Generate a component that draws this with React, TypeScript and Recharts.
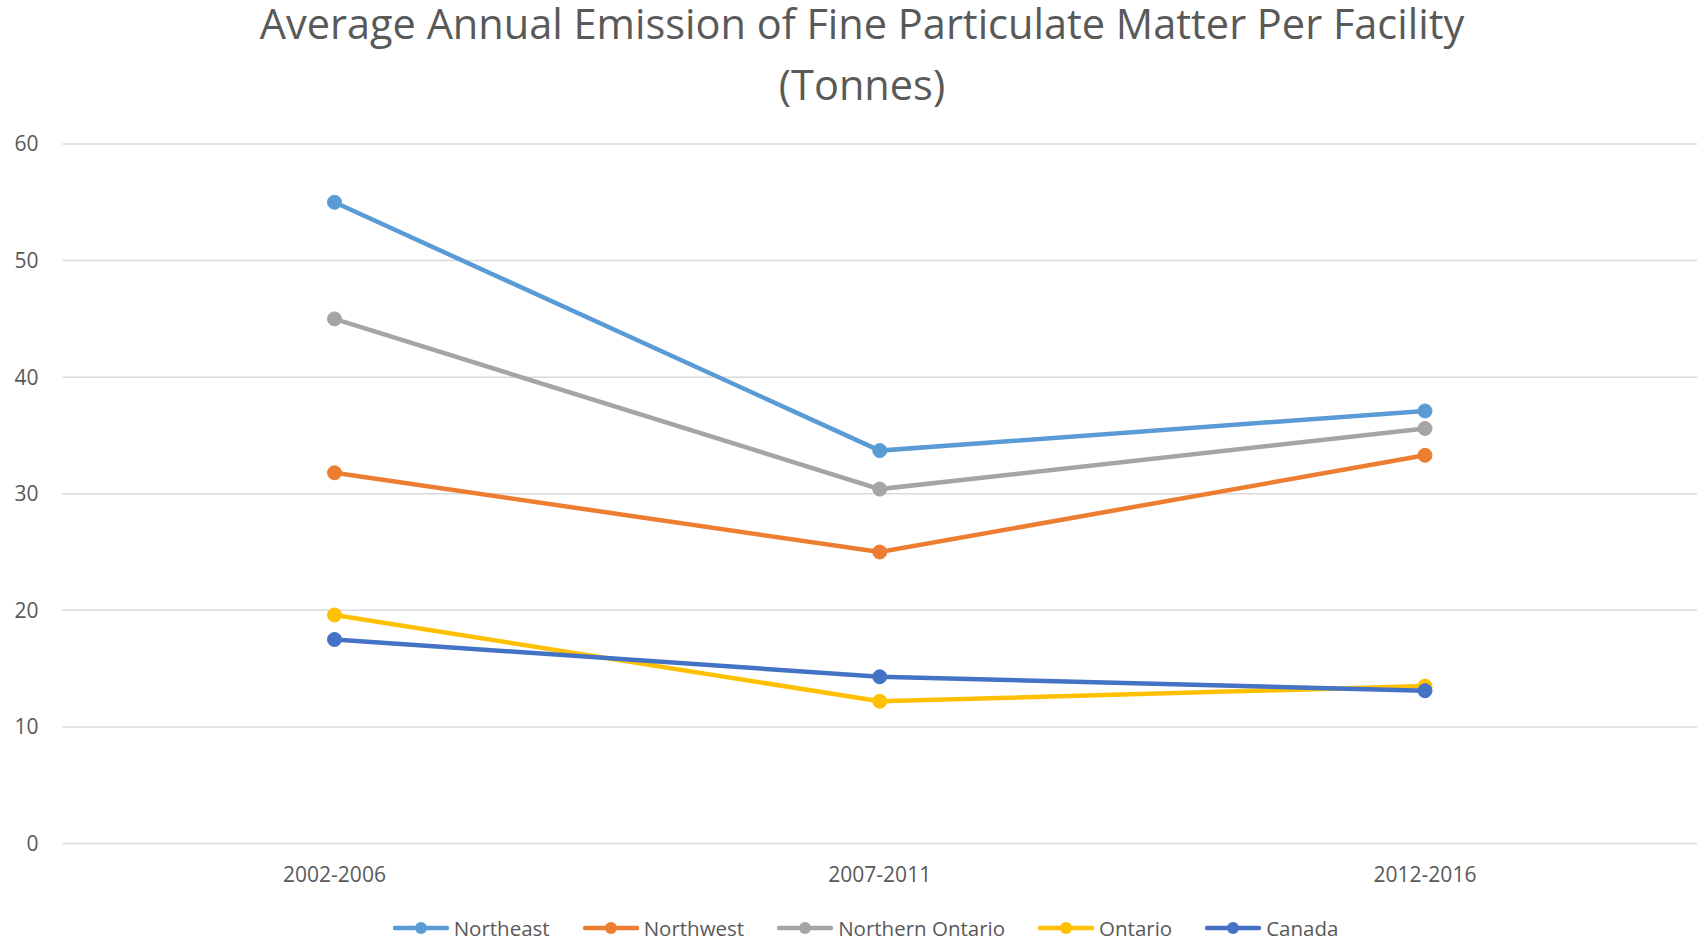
import React from 'react';
import { LineChart, Line, XAxis, YAxis, CartesianGrid, Legend } from 'recharts';

const periods = ['2002-2006', '2007-2011', '2012-2016'];
const northeast = [55.0, 33.7, 37.1];
const northwest = [31.8, 25.0, 33.3];
const northernOntario = [45.0, 30.4, 35.6];
const ontario = [19.6, 12.2, 13.5];
const canada = [17.5, 14.3, 13.1];
const yTicks = [0, 10, 20, 30, 40, 50, 60];

const series = [
  { key: 'northeast', name: 'Northeast', color: '#5B9BD5' },
  { key: 'northwest', name: 'Northwest', color: '#ED7D31' },
  { key: 'northernOntario', name: 'Northern Ontario', color: '#A5A5A5' },
  { key: 'ontario', name: 'Ontario', color: '#FFC000' },
  { key: 'canada', name: 'Canada', color: '#4472C4' },
];

const data = periods.map((period, i) => ({
  period,
  northeast: northeast[i],
  northwest: northwest[i],
  northernOntario: northernOntario[i],
  ontario: ontario[i],
  canada: canada[i],
}));

const FONT = '"Open Sans", sans-serif';
const TEXT = '#595959';

const renderLegend = () => (
  <div
    style={{
      display: 'flex',
      justifyContent: 'center',
      alignItems: 'center',
      gap: 33,
      fontFamily: FONT,
      fontSize: 20.5,
      color: TEXT,
      paddingLeft: 34,
      height: 22,
    }}
  >
    {series.map((s) => (
      <div key={s.key} style={{ display: 'flex', alignItems: 'center' }}>
        <svg width={56} height={14} style={{ marginRight: 5 }}>
          <line x1={2} y1={7} x2={54} y2={7} stroke={s.color} strokeWidth={4.5} strokeLinecap="round" />
          <circle cx={28} cy={7} r={6} fill={s.color} />
        </svg>
        <span style={{ lineHeight: '20px' }}>{s.name}</span>
      </div>
    ))}
  </div>
);

export default function App() {
  return (
    <div
      style={{
        position: 'absolute',
        left: 0,
        top: 0,
        width: 1700,
        height: 939,
        background: '#ffffff',
        overflow: 'hidden',
      }}
    >
      <div
        style={{
          position: 'absolute',
          left: 24,
          top: 0,
          width: 1676,
          textAlign: 'center',
          fontFamily: FONT,
          fontSize: 41.5,
          lineHeight: '46px',
          color: TEXT,
        }}
      >
        <div>Average Annual Emission of Fine Particulate Matter Per Facility</div>
        <div style={{ marginTop: 15 }}>(Tonnes)</div>
      </div>
      <LineChart
        width={1700}
        height={939}
        data={data}
        margin={{ top: 144, right: 3, left: 0, bottom: 0 }}
      >
        <CartesianGrid vertical={false} stroke="#D9D9D9" strokeWidth={1.5} />
        <XAxis
          dataKey="period"
          axisLine={false}
          tickLine={false}
          tickSize={0}
          tickMargin={24}
          height={73.5}
          padding={{ left: 272, right: 272 }}
          tick={{ fontSize: 21, fill: TEXT, fontFamily: FONT }}
        />
        <YAxis
          domain={[0, 60]}
          ticks={yTicks}
          width={62.5}
          axisLine={false}
          tickLine={false}
          tickSize={0}
          tickMargin={24}
          tick={{ fontSize: 21, fill: TEXT, fontFamily: FONT }}
        />
        <Legend verticalAlign="bottom" height={22} content={renderLegend} />
        {series.map((s) => (
          <Line
            key={s.key}
            type="linear"
            dataKey={s.key}
            name={s.name}
            stroke={s.color}
            strokeWidth={4.5}
            dot={{ r: 7, fill: s.color, stroke: s.color, strokeWidth: 1 }}
            isAnimationActive={false}
          />
        ))}
      </LineChart>
    </div>
  );
}
